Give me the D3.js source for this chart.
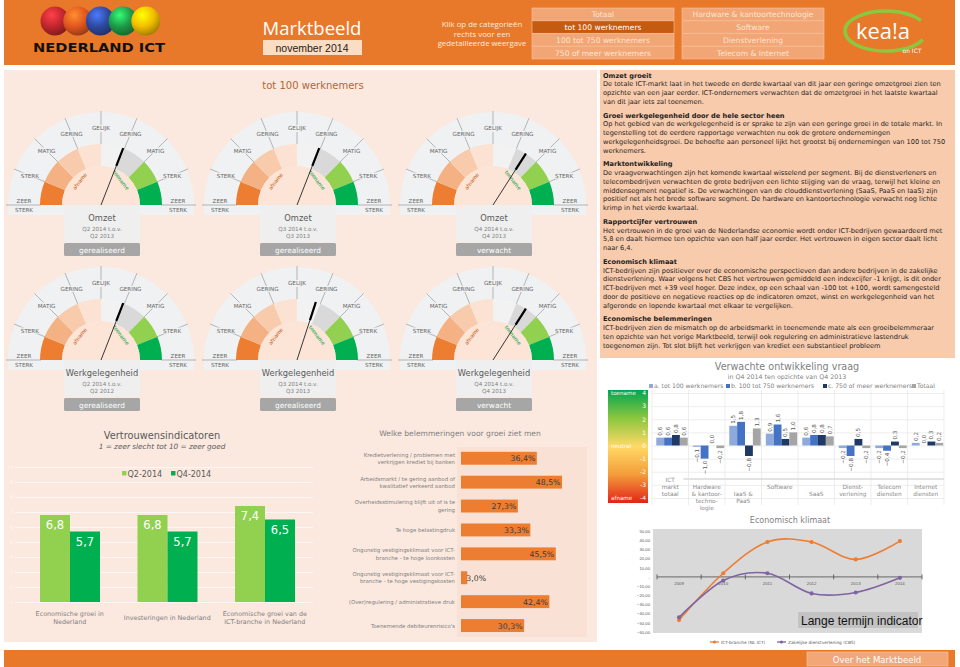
<!DOCTYPE html>
<html>
<head>
<meta charset="utf-8">
<script src="https://cdn.jsdelivr.net/npm/d3@7"></script>
<style>
  body { margin: 0; background: #fff; }
  svg { display: block; font-family: "DejaVu Sans", Verdana, sans-serif; }
</style>
</head>
<body>
<div id="chart"></div>
<script>
// ---------------- data ----------------
const sizeButtons = ['Totaal', 'tot 100 werknemers', '100 tot 750 werknemers', '750 of meer werknemers'];
const sectorButtons = ['Hardware & kantoortechnologie', 'Software', 'Dienstverlening', 'Telecom & Internet'];
const selectedButton = 'tot 100 werknemers';
const clickHint = ['Klik op de categorieën', 'rechts voor een', 'gedetailleerde weergave'];

const gaugeScale = ['ZEER STERK', 'STERK', 'MATIG', 'GERING', 'GELIJK', 'GERING', 'MATIG', 'STERK', 'ZEER STERK'];
const gaugeTitles = ['Omzet', 'Omzet', 'Omzet', 'Werkgelegenheid', 'Werkgelegenheid', 'Werkgelegenheid'];
const gaugeFrom = ['Q2 2014 t.o.v.', 'Q3 2014 t.o.v.', 'Q4 2014 t.o.v.', 'Q2 2014 t.o.v.', 'Q3 2014 t.o.v.', 'Q4 2014 t.o.v.'];
const gaugeTo = ['Q2 2013', 'Q3 2013', 'Q4 2013', 'Q2 2012', 'Q3 2013', 'Q4 2013'];
const gaugeStatus = ['gerealiseerd', 'gerealiseerd', 'verwacht', 'gerealiseerd', 'gerealiseerd', 'verwacht'];
const gaugeValues = [0.95, 0.95, 1.45, 0.95, 0.8, 1.45];   // -4 (zeer sterke afname) .. 4 (zeer sterke toename)

const trustCategories = ['Economische groei in|Nederland', 'Investeringen in Nederland', 'Economische groei van de|ICT-branche in Nederland'];
const trustSeries = ['Q2-2014', 'Q4-2014'];
const trustQ2 = [6.8, 6.8, 7.4];
const trustQ4 = [5.7, 5.7, 6.5];

const obstacleLabels = [
  'Kredietverlening / problemen met|verkrijgen krediet bij banken',
  'Arbeidsmarkt / te gering aanbod of|kwalitatief verkeerd aanbod',
  'Overheidsstimulering blijft uit of is te|gering',
  'Te hoge belastingdruk',
  'Ongunstig vestigingsklimaat voor ICT-|branche - te hoge loonkosten',
  'Ongunstig vestigingsklimaat voor ICT-|branche - te hoge vestigingskosten',
  '(Over)regulering / administratieve druk',
  'Toenemende debiteurenrisico\'s'
];
const obstacleValues = [36.4, 48.5, 27.3, 33.3, 45.5, 3.0, 42.4, 30.3];

const demandCategories = ['ICT|markt|totaal', 'Hardware|& kantoor-|techno-|logie', 'IaaS &|PaaS', 'Software', 'SaaS', 'Dienst-|verlening', 'Telecom|diensten', 'Internet|diensten'];
const demandSeries = ['a. tot 100 werknemers', 'b. 100 tot 750 werknemers', 'c. 750 of meer werknemers', 'Totaal'];
const demandA = [0.6, -0.1, 1.5, 0.9, 0.6, -0.2, -0.2, 0.2];
const demandB = [0.6, -1.0, 1.8, 1.6, 0.8, -0.8, -0.4, 0.0];
const demandC = [0.8, 0.0, -0.8, 0.5, 0.8, 0.5, 0.3, 0.3];
const demandTotal = [0.6, -0.2, 1.3, 1.0, 0.7, -0.2, -0.2, 0.2];
const demandTicks = [4, 3, 2, 1, 0, -1, -2, -3, -4];
const demandTickNames = ['toename', '', '', '', 'neutral', '', '', '', 'afname'];

const climateYears = ['2009', '2010', '2011', '2012', '2013', '2014'];
const climateICT = [-47, 4, 38, 38, 19, 39];
const climateCBS = [-44, -4, 4, -18, -17, -1];
const climateSeries = ['ICT-branche (NL ICT)', 'Zakelijke dienstverlening (CBS)'];

const textBlocks = [
  { title: 'Omzet groeit', lines: [
    'De totale ICT-markt laat in het tweede en derde kwartaal van dit jaar een geringe omzetgroei zien ten',
    'opzichte van een jaar eerder. ICT-ondernemers verwachten dat de omzetgroei in het laatste kwartaal',
    'van dit jaar iets zal toenemen.'] },
  { title: 'Groei werkgelegenheid door de hele sector heen', lines: [
    'Op het gebied van de werkgelegenheid is er sprake te zijn van een geringe groei in de totale markt. In',
    'tegenstelling tot de eerdere rapportage verwachten nu ook de grotere ondernemingen',
    'werkgelegenheidsgroei. De behoefte aan personeel lijkt het grootst bij ondernemingen van 100 tot 750',
    'werknemers.'] },
  { title: 'Marktontwikkeling', lines: [
    'De vraagverwachtingen zijn het komende kwartaal wisselend per segment. Bij de dienstverleners en',
    'telecombedrijven verwachten de grote bedrijven een lichte stijging van de vraag, terwijl het kleine en',
    'middensegment negatief is. De verwachtingen van de clouddienstverlening (SaaS, PaaS en IaaS) zijn',
    'positief net als het brede software segment. De hardware en kantoortechnologie verwacht nog lichte',
    'krimp in het vierde kwartaal.'] },
  { title: 'Rapportcijfer vertrouwen', lines: [
    'Het vertrouwen in de groei van de Nederlandse economie wordt onder ICT-bedrijven gewaardeerd met',
    '5,8 en daalt hiermee ten opzichte van een half jaar eerder. Het vertrouwen in eigen sector daalt licht',
    'naar 6,4.'] },
  { title: 'Economisch klimaat', lines: [
    'ICT-bedrijven zijn positiever over de economische perspectieven dan andere bedrijven in de zakelijke',
    'dienstverlening.  Waar volgens het CBS het vertrouwen gemiddeld  een indexcijfer -1 krijgt, is dit onder',
    'ICT-bedrijven met +39 veel hoger. Deze index, op een schaal van -100 tot +100, wordt samengesteld',
    'door de positieve en negatieve reacties op de indicatoren omzet, winst en werkgelegenheid van het',
    'afgeronde en lopende kwartaal met elkaar te vergelijken.'] },
  { title: 'Economische belemmeringen', lines: [
    'ICT-bedrijven zien de mismatch op de arbeidsmarkt in toenemende mate als een groeibelemmeraar',
    'ten opzichte van het vorige Marktbeeld, terwijl ook regulering en administratieve lastendruk',
    'toegenomen zijn. Tot slot blijft het verkrijgen van krediet een substantieel probleem'] }
];

// ---------------- helpers ----------------
const nl = d3.formatLocale({ decimal: ',', thousands: '.', grouping: [3], currency: ['€', ''] });
const fmt1 = nl.format('.1f');
const fmt2 = nl.format('.2f');

function multiline(sel, str, lineH) {
  const parts = str.split('|');
  parts.forEach((p, i) => {
    sel.append('tspan').attr('x', sel.attr('x')).attr('dy', i === 0 ? -(parts.length - 1) * lineH / 2 : lineH).text(p);
  });
}

const svg = d3.select('#chart').append('svg').attr('width', 960).attr('height', 667);
const defs = svg.append('defs');

// ---------------- header ----------------
const header = svg.append('g');
header.append('rect').attr('x', 4).attr('y', 0).attr('width', 951).attr('height', 65).attr('fill', '#E8792B');

const sphereColors = ['#C1272D', '#E2571E', '#2E4A9E', '#1F9A48', '#F2BE00'];
sphereColors.forEach((c, i) => {
  const id = 'sphere' + i;
  const rg = defs.append('radialGradient').attr('id', id).attr('cx', '38%').attr('cy', '30%').attr('r', '72%');
  rg.append('stop').attr('offset', '0%').attr('stop-color', d3.color(c).brighter(1.4).formatHex());
  rg.append('stop').attr('offset', '55%').attr('stop-color', c);
  rg.append('stop').attr('offset', '100%').attr('stop-color', d3.color(c).darker(1.1).formatHex());
  header.append('circle').attr('cx', 55 + i * 22.7).attr('cy', 21).attr('r', 14.5).attr('fill', `url(#${id})`);
});
header.append('text').attr('x', 33).attr('y', 52).attr('font-size', 12).attr('font-weight', 'bold')
  .attr('textLength', 132).attr('lengthAdjust', 'spacingAndGlyphs').attr('fill', '#111').text('NEDERLAND ICT');

header.append('text').attr('x', 312).attr('y', 35).attr('text-anchor', 'middle')
  .style('font-family', '"Open Sans", sans-serif').attr('font-size', 18.5).attr('fill', '#fff').text('Marktbeeld');
header.append('rect').attr('x', 263).attr('y', 40).attr('width', 99).attr('height', 15).attr('fill', '#FBDDC4');
header.append('text').attr('x', 312).attr('y', 51.5).attr('text-anchor', 'middle')
  .style('font-family', '"Liberation Sans", Arial, sans-serif').attr('font-size', 10.5).attr('fill', '#222').text('november 2014');

clickHint.forEach((t, i) => {
  header.append('text').attr('x', 482).attr('y', 27 + i * 9.5).attr('text-anchor', 'middle')
    .style('font-family', '"Open Sans", sans-serif').attr('font-size', 7.8).attr('fill', '#FDEBDD').text(t);
});

[sizeButtons, sectorButtons].forEach((list, col) => {
  const x0 = col === 0 ? 532 : 682;
  list.forEach((label, i) => {
    const sel = label === selectedButton;
    const y0 = 8 + i * 12.85;
    header.append('rect').attr('x', x0).attr('y', y0).attr('width', 142).attr('height', 12.4)
      .attr('fill', sel ? '#C55A11' : '#F2A675').attr('stroke', '#F7C6A4').attr('stroke-width', 0.6);
    header.append('text').attr('x', x0 + 71).attr('y', y0 + 9.2).attr('text-anchor', 'middle')
      .attr('font-size', 7.6).attr('fill', sel ? '#fff' : '#FCE4D2').text(label);
  });
});

// kea!a logo
const ecx = 886, ecy = 31, erx = 41, ery = 20;
const p1 = [ecx + erx * Math.cos(-0.55), ecy + ery * Math.sin(-0.55)];
const p2 = [ecx + erx * Math.cos(0.45), ecy + ery * Math.sin(0.45)];
header.append('path').attr('d', `M${p1} A${erx},${ery} 0 1 0 ${p2}`)
  .attr('fill', 'none').attr('stroke', '#8DC63F').attr('stroke-width', 3.5);
header.append('text').attr('x', 883).attr('y', 39).attr('text-anchor', 'middle').attr('font-size', 22)
  .style('font-family', '"Open Sans", sans-serif').attr('fill', '#fff').text('kea!a');
header.append('text').attr('x', 912).attr('y', 53).attr('text-anchor', 'middle').attr('font-size', 6)
  .attr('fill', '#fff').text('on ICT');

// ---------------- panels ----------------
svg.append('rect').attr('x', 4).attr('y', 70).attr('width', 593).attr('height', 572).attr('fill', '#FBE9DF');
svg.append('rect').attr('x', 600).attr('y', 70).attr('width', 355).attr('height', 288).attr('fill', '#F8CBAD');
svg.append('text').attr('x', 313).attr('y', 89).attr('text-anchor', 'middle').attr('font-size', 10)
  .attr('fill', '#B8652F').text('tot 100 werknemers');

// ---------------- text panel ----------------
const tp = svg.append('g').attr('font-size', 6.6).attr('fill', '#1E1E1E');
let ty = 77.5;
textBlocks.forEach(b => {
  tp.append('text').attr('x', 603).attr('y', ty).attr('font-weight', 'bold').text(b.title);
  ty += 8.75;
  b.lines.forEach(l => {
    const t = tp.append('text').attr('x', 603).attr('y', ty).text(l);
    if (t.node().getComputedTextLength() > 349) t.attr('textLength', 349).attr('lengthAdjust', 'spacingAndGlyphs');
    ty += 8.75;
  });
  ty += 5;
});

// ---------------- gauges ----------------
const segAngle = d3.scaleLinear().domain([0, 8]).range([-Math.PI / 2, Math.PI / 2]);
const needleAngle = d3.scaleLinear().domain([-4, 4]).range([-Math.PI / 2, Math.PI / 2]);
const bandColors = ['#ED7D31', '#F4B183', '#F8CBAD', '#FBE2D2', '#F2F2F2', '#D9D9D9', '#92D050', '#00B050'];
const arc = d3.arc();
const polar = (r, a) => [r * Math.sin(a), -r * Math.cos(a)];

gaugeValues.forEach((v, i) => {
  const cx = 101 + (i % 3) * 196;
  const cy = 205 + Math.floor(i / 3) * 155;
  const g = svg.append('g').attr('transform', `translate(${cx},${cy})`);

  g.append('path').attr('d', arc({ innerRadius: 0, outerRadius: 93, startAngle: -Math.PI / 2, endAngle: Math.PI / 2 }))
    .attr('fill', '#F0F1F2');
  g.append('rect').attr('x', -93).attr('y', 0).attr('width', 186).attr('height', 10).attr('fill', '#F0F1F2');

  // dividers + scale labels
  gaugeScale.forEach((lab, k) => {
    const a = segAngle(k);
    const [x1, y1] = polar(60, a), [x2, y2] = polar(k === 0 || k === 8 ? 95 : 94, a);
    g.append('line').attr('x1', x1).attr('y1', y1).attr('x2', x2).attr('y2', y2)
      .attr('stroke', '#999').attr('stroke-width', 0.7);
    const [lx, ly] = polar(77, a);
    if (k === 0 || k === 8) {
      const words = lab.split(' ');
      g.append('text').attr('x', lx).attr('y', -2).attr('text-anchor', 'middle').attr('font-size', 5.6).attr('fill', '#666').text(words[0]);
      g.append('text').attr('x', lx).attr('y', 6.5).attr('text-anchor', 'middle').attr('font-size', 5.6).attr('fill', '#666').text(words[1]);
    } else {
      const t = g.append('text').attr('x', lx).attr('y', ly + 2).attr('text-anchor', 'middle')
        .attr('font-size', 5.6).attr('fill', '#666').text(lab);
      const bb = t.node().getBBox();
      g.insert('rect', () => t.node()).attr('x', bb.x - 1).attr('y', bb.y).attr('width', bb.width + 2).attr('height', bb.height)
        .attr('fill', '#F0F1F2');
    }
  });

  bandColors.forEach((c, k) => {
    g.append('path').attr('d', arc({ innerRadius: 39, outerRadius: 61, startAngle: segAngle(k), endAngle: segAngle(k + 1) }))
      .attr('fill', c);
  });
  g.append('path').attr('d', arc({ innerRadius: 0, outerRadius: 39, startAngle: -Math.PI / 2, endAngle: Math.PI / 2 }))
    .attr('fill', '#FCE4D6');

  const [ax, ay] = polar(32, -0.73);
  g.append('text').attr('transform', `translate(${ax},${ay}) rotate(-52)`).attr('text-anchor', 'middle').attr('dy', 2)
    .attr('font-size', 5.2).attr('fill', '#C55A11').text('afname');
  const [tx, tyy] = polar(32, 0.68);
  g.append('text').attr('transform', `translate(${tx},${tyy}) rotate(52)`).attr('text-anchor', 'middle').attr('dy', 2)
    .attr('font-size', 5.2).attr('fill', '#00A04A').text('toename');

  // needle
  const na = needleAngle(v);
  const tip = polar(61, na), mid = polar(42, na);
  g.append('line').attr('x1', 0).attr('y1', 0).attr('x2', tip[0]).attr('y2', tip[1]).attr('stroke', '#222').attr('stroke-width', 0.9);
  g.append('line').attr('x1', mid[0]).attr('y1', mid[1]).attr('x2', tip[0]).attr('y2', tip[1]).attr('stroke', '#000').attr('stroke-width', 2.2);

  // center box
  g.append('rect').attr('x', -37).attr('y', 0).attr('width', 76).attr('height', 37).attr('fill', '#EFEFEF');
  g.append('text').attr('x', 1).attr('y', 16).attr('text-anchor', 'middle').attr('font-size', 8.3).attr('fill', '#595959').text(gaugeTitles[i]);
  g.append('text').attr('x', 1).attr('y', 25.5).attr('text-anchor', 'middle').attr('font-size', 5.6).attr('fill', '#7F7F7F').text(gaugeFrom[i]);
  g.append('text').attr('x', 1).attr('y', 33).attr('text-anchor', 'middle').attr('font-size', 5.6).attr('fill', '#7F7F7F').text(gaugeTo[i]);
  g.append('rect').attr('x', -37).attr('y', 38).attr('width', 76).attr('height', 13).attr('rx', 1.5).attr('fill', '#A6A6A6');
  g.append('text').attr('x', 1).attr('y', 47.5).attr('text-anchor', 'middle').attr('font-size', 7.4).attr('fill', '#fff').text(gaugeStatus[i]);
});

// ---------------- Vertrouwensindicatoren ----------------
const trust = svg.append('g');
trust.append('text').attr('x', 162).attr('y', 439).attr('text-anchor', 'middle').attr('font-size', 9.8).attr('fill', '#595959').text('Vertrouwensindicatoren');
trust.append('text').attr('x', 162).attr('y', 448.5).attr('text-anchor', 'middle').attr('font-size', 7.3).attr('font-style', 'italic').attr('fill', '#595959').text('1 = zeer slecht tot 10 = zeer goed');

const trustX = d3.scaleBand().domain(trustCategories).range([21, 313.5]);
const trustInner = d3.scaleBand().domain(trustSeries).range([19, 79]);
const trustY = d3.scaleLinear().domain([1, 10]).range([602, 467]);
const trustColor = d3.scaleOrdinal().domain(trustSeries).range(['#92D050', '#00B050']);

trust.append('g').attr('transform', 'translate(15,0)')
  .call(d3.axisLeft(trustY).ticks(10).tickSize(-298).tickFormat(d3.format('d')))
  .call(ax => ax.select('.domain').remove())
  .call(ax => ax.selectAll('line').attr('stroke', '#fff').attr('stroke-width', 0.6))
  .call(ax => ax.selectAll('text').attr('fill', '#FDF5F0').attr('font-size', 5).attr('x', -2));

const trustData = trustCategories.map((c, i) => ({ cat: c, vals: [trustQ2[i], trustQ4[i]] }));
trustData.forEach(d => {
  d.vals.forEach((v, j) => {
    const s = trustSeries[j];
    const x = trustX(d.cat) + trustInner(s);
    trust.append('rect').attr('x', x).attr('y', trustY(v)).attr('width', trustInner.bandwidth()).attr('height', trustY(1) - trustY(v))
      .attr('fill', trustColor(s));
    trust.append('text').attr('x', x + trustInner.bandwidth() / 2).attr('y', trustY(v) + 14).attr('text-anchor', 'middle')
      .attr('font-size', 11.5).attr('fill', '#fff').text(fmt1(v));
  });
  const t = trust.append('text').attr('x', trustX(d.cat) + trustX.bandwidth() / 2).attr('y', 620).attr('text-anchor', 'middle')
    .attr('font-size', 6.4).attr('fill', '#7F7F7F');
  multiline(t, d.cat, 7.8);
});

trustSeries.forEach((s, i) => {
  const lx = [122, 171][i];
  trust.append('rect').attr('x', lx).attr('y', 471).attr('width', 4.5).attr('height', 4.5).attr('fill', trustColor(s));
  trust.append('text').attr('x', lx + 5.5).attr('y', 476.5).attr('font-size', 8).attr('fill', '#595959').text(s);
});

// ---------------- Belemmeringen ----------------
const obs = svg.append('g');
obs.append('text').attr('x', 460).attr('y', 436).attr('text-anchor', 'middle').attr('font-size', 7.6).attr('fill', '#7F7F7F')
  .text('Welke belemmeringen voor groei ziet men');
obs.append('rect').attr('x', 457).attr('y', 447).attr('width', 130).attr('height', 190).attr('fill', '#F9E2D5');
const obsY = d3.scaleBand().domain(obstacleLabels).range([446.3, 637.5]).paddingInner(0.46).paddingOuter(0.23);
const obsX = d3.scaleLinear().domain([0, 60]).range([461, 586]);
obstacleLabels.forEach((lab, i) => {
  const v = obstacleValues[i];
  const y = obsY(lab);
  obs.append('rect').attr('x', obsX(0)).attr('y', y).attr('width', obsX(v) - obsX(0)).attr('height', obsY.bandwidth()).attr('fill', '#ED7D31');
  const small = obsX(v) - obsX(0) < 25;
  obs.append('text').attr('x', small ? obsX(v) - 1 : obsX(v) - 1.5).attr('y', y + obsY.bandwidth() / 2 + 3)
    .attr('text-anchor', small ? 'start' : 'end').attr('font-size', 7.8).attr('fill', '#3B3B3B').text(fmt1(v) + '%');
  const t = obs.append('text').attr('x', 455).attr('y', y + obsY.bandwidth() / 2 + 2).attr('text-anchor', 'end')
    .attr('font-size', 5.4).attr('fill', '#808080');
  multiline(t, lab, 7.3);
});

// ---------------- Verwachte ontwikkeling vraag ----------------
const dem = svg.append('g');
dem.append('text').attr('x', 787).attr('y', 369.5).attr('text-anchor', 'middle').attr('font-size', 9.6).attr('fill', '#7F7F7F').text('Verwachte ontwikkeling vraag');
dem.append('text').attr('x', 787).attr('y', 378.5).attr('text-anchor', 'middle').attr('font-size', 6.3).attr('fill', '#7F7F7F').text('in Q4 2014 ten opzichte van Q4 2013');

const demColor = d3.scaleOrdinal().domain(demandSeries).range(['#8EA9DB', '#4472C4', '#1F3864', '#A5A5A5']);
const demLegendX = [649, 726, 823, 912];
demandSeries.forEach((s, i) => {
  dem.append('rect').attr('x', demLegendX[i]).attr('y', 384).attr('width', 4).attr('height', 4).attr('fill', demColor(s));
  dem.append('text').attr('x', demLegendX[i] + 5).attr('y', 388.3).attr('font-size', 6.1).attr('fill', '#7F7F7F').text(s);
});

const grad = defs.append('linearGradient').attr('id', 'demgrad').attr('x1', 0).attr('y1', 0).attr('x2', 0).attr('y2', 1);
[['0%', '#00A650'], ['25%', '#8CC63F'], ['50%', '#FFD966'], ['75%', '#F39C3A'], ['100%', '#E2231A']].forEach(s =>
  grad.append('stop').attr('offset', s[0]).attr('stop-color', s[1]));
dem.append('rect').attr('x', 608).attr('y', 390).attr('width', 40).attr('height', 113).attr('fill', 'url(#demgrad)');

const demY = d3.scaleLinear().domain([-4, 4]).range([498, 393]);
const demX = d3.scaleBand().domain(demandCategories).range([652, 944]);
const demInner = d3.scaleBand().domain(demandSeries).range([4.3, 35.7]);

demandTicks.forEach((t, i) => {
  dem.append('text').attr('x', 646).attr('y', demY(t) + 2.3).attr('text-anchor', 'end').attr('font-size', 6).attr('fill', '#fff').text(t);
  if (demandTickNames[i]) dem.append('text').attr('x', 611).attr('y', demY(t) + 2.3).attr('font-size', 5.6).attr('fill', '#fff').text(demandTickNames[i]);
});

dem.append('g').attr('transform', 'translate(652,0)')
  .call(d3.axisLeft(demY).tickValues(demandTicks).tickSize(-292).tickFormat(''))
  .call(ax => ax.select('.domain').remove())
  .call(ax => ax.selectAll('line').attr('stroke', '#E3E3E3').attr('stroke-width', 0.6));
demandCategories.concat(['end']).forEach((c, i) => {
  const x = i < demandCategories.length ? demX(c) : demX.range()[1];
  dem.append('line').attr('x1', x).attr('x2', x).attr('y1', 390).attr('y2', 505).attr('stroke', '#E3E3E3').attr('stroke-width', 0.6);
});
dem.append('line').attr('x1', demX(demandCategories[1]) - 5).attr('x2', 944).attr('y1', 479).attr('y2', 479)
  .attr('stroke', '#D9D9D9').attr('stroke-width', 1.5);

const demSeriesValues = [demandA, demandB, demandC, demandTotal];
const labelLevel = [0, 1, 2, 1, 2, 1, 1, 1];
demandCategories.forEach((c, ci) => {
  demandSeries.forEach((s, si) => {
    const v = demSeriesValues[si][ci];
    const x = demX(c) + demInner(s);
    const y0 = demY(Math.max(0, v)), y1 = demY(Math.min(0, v));
    dem.append('rect').attr('x', x).attr('y', y0).attr('width', demInner.bandwidth()).attr('height', Math.max(y1 - y0, 0))
      .attr('fill', demColor(s));
    const cxl = x + demInner.bandwidth() / 2 + 2;
    const ly = v >= 0 ? y0 - 2 : y1 + 2;
    dem.append('text').attr('transform', `translate(${cxl},${ly}) rotate(-90)`).attr('text-anchor', v >= 0 ? 'start' : 'end')
      .attr('font-size', 5.6).attr('fill', '#595959').text(fmt1(v));
  });
  const parts = c.split('|');
  parts.forEach((p, k) => {
    dem.append('text').attr('x', demX(c) + demX.bandwidth() / 2).attr('y', 482 + labelLevel[ci] * 7 + k * 7)
      .attr('text-anchor', 'middle').attr('font-size', 5.8).attr('fill', '#8C8C8C').text(p);
  });
});

// ---------------- Economisch klimaat ----------------
const clim = svg.append('g');
clim.append('text').attr('x', 790).attr('y', 523).attr('text-anchor', 'middle').attr('font-size', 8).attr('fill', '#7F7F7F').text('Economisch klimaat');
const climX = d3.scaleBand().domain(climateYears).range([657, 922]);
const climY = d3.scaleLinear().domain([-60, 50]).range([632, 531]);
clim.append('rect').attr('x', 653).attr('y', 529).attr('width', 269).attr('height', 104).attr('fill', '#D9D9D9');
clim.append('g').attr('transform', 'translate(651,0)')
  .call(d3.axisLeft(climY).tickValues(d3.range(-60, 51, 10)).tickSize(0).tickFormat(d => d === 0 ? '-' : fmt2(d)))
  .call(ax => ax.select('.domain').remove())
  .call(ax => ax.selectAll('text').attr('font-size', 4.2).attr('fill', '#595959').attr('x', -1));
const zeroY = climY(0);
clim.append('line').attr('x1', 657).attr('x2', 922).attr('y1', zeroY).attr('y2', zeroY).attr('stroke', '#595959').attr('stroke-width', 0.9);
climateYears.concat(['end']).forEach((yr, i) => {
  const x = i < climateYears.length ? climX(yr) : climX.range()[1];
  clim.append('line').attr('x1', x).attr('x2', x).attr('y1', zeroY - 2.5).attr('y2', zeroY + 2.5).attr('stroke', '#595959').attr('stroke-width', 0.9);
});
clim.append('g').attr('transform', `translate(0,${zeroY + 2})`)
  .call(d3.axisBottom(climX).tickSize(0))
  .call(ax => ax.select('.domain').remove())
  .call(ax => ax.selectAll('text').attr('font-size', 4.4).attr('fill', '#595959'));

const climColors = ['#ED7D31', '#8064A2'];
const line = d3.line().x((d, i) => climX(climateYears[i]) + climX.bandwidth() / 2).y(d => climY(d)).curve(d3.curveCardinal.tension(0));
[climateICT, climateCBS].forEach((vals, si) => {
  clim.append('path').attr('d', line(vals)).attr('fill', 'none').attr('stroke', climColors[si]).attr('stroke-width', 1.6);
  vals.forEach((v, i) => {
    clim.append('circle').attr('cx', climX(climateYears[i]) + climX.bandwidth() / 2).attr('cy', climY(v)).attr('r', 2.1).attr('fill', climColors[si]);
  });
});
climateSeries.forEach((s, i) => {
  const lx = [710, 777][i];
  clim.append('line').attr('x1', lx).attr('x2', lx + 9).attr('y1', 642).attr('y2', 642).attr('stroke', climColors[i]).attr('stroke-width', 1.3);
  clim.append('circle').attr('cx', lx + 4.5).attr('cy', 642).attr('r', 1.6).attr('fill', climColors[i]);
  clim.append('text').attr('x', lx + 11).attr('y', 643.6).attr('font-size', 4.3).attr('fill', '#595959').text(s);
});
clim.append('rect').attr('x', 798).attr('y', 612).attr('width', 120).attr('height', 16).attr('fill', '#C3C3C3');
clim.append('text').attr('x', 801).attr('y', 624.5).style('font-family', '"Liberation Sans", Arial, sans-serif')
  .attr('font-size', 12).attr('fill', '#111').text('Lange termijn indicator');

// ---------------- footer ----------------
svg.append('rect').attr('x', 4).attr('y', 650).attr('width', 951).attr('height', 17).attr('fill', '#E8792B');
svg.append('rect').attr('x', 807).attr('y', 652).attr('width', 141).attr('height', 14).attr('fill', '#F3A676').attr('stroke', '#F8C9A6').attr('stroke-width', 0.6);
svg.append('text').attr('x', 877).attr('y', 662.5).attr('text-anchor', 'middle').attr('font-size', 8.6).attr('fill', '#fff').text('Over het Marktbeeld');
</script>
</body>
</html>
